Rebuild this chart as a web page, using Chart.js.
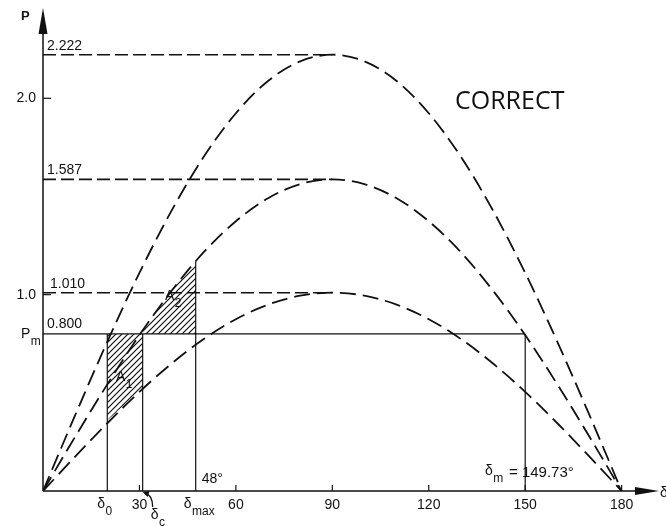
<!DOCTYPE html>
<html>
<head>
<meta charset="utf-8">
<script src="https://cdn.jsdelivr.net/npm/chart.js@4.4.1/dist/chart.umd.min.js"></script>
<style>
  html, body { margin: 0; padding: 0; background: #fff; }
  #wrap { width: 666px; height: 527px; position: relative; }
</style>
</head>
<body>
<div id="wrap"><canvas id="myChart"></canvas></div>
<script>
// valores (curvas P-delta)
const angles = [0, 10, 20, 30, 40, 50, 60, 70, 80, 90, 100, 110, 120, 130, 140, 150, 160, 170, 180];
const curvePre = [0, 0.386, 0.760, 1.111, 1.428, 1.702, 1.924, 2.088, 2.188, 2.222, 2.188, 2.088, 1.924, 1.702, 1.428, 1.111, 0.760, 0.386, 0];
const curvePost = [0, 0.276, 0.543, 0.794, 1.020, 1.216, 1.374, 1.491, 1.563, 1.587, 1.563, 1.491, 1.374, 1.216, 1.020, 0.794, 0.543, 0.276, 0];
const curveFault = [0, 0.175, 0.345, 0.505, 0.649, 0.774, 0.875, 0.949, 0.995, 1.010, 0.995, 0.949, 0.875, 0.774, 0.649, 0.505, 0.345, 0.175, 0];

const peakValues = [2.222, 1.587, 1.010];
const peakLabels = ["2.222", "1.587", "1.010"];
const pm = 0.8;
const pmLabel = "0.800";
const delta0 = 20;
const deltaC = 31;
const deltaMax = 47.5;
const deltaM = 149.73;
const peakAngle = 90;

const xTickValues = [30, 60, 90, 120, 150, 180];
const xTickLabels = ["30", "60", "90", "120", "150", "180"];
const yTickValues = [1.0, 2.0];
const yTickLabels = ["1.0", "2.0"];

// area A1 (entre Pm e a curva de defeito) e A2 (entre Pm e a curva pos-defeito)
const a1Angles = [20, 23, 26, 29, 31];
const a1Lower = [0.36, 0.405, 0.450, 0.495, 0.522];
const a2Angles = [31, 35, 39, 43, 47.5];
const a2Upper = [0.817, 0.910, 0.999, 1.082, 1.170];

const pts = (xs, ys) => xs.map((x, i) => ({ x: x, y: ys[i] }));
const flat = (xs, v) => xs.map((x) => ({ x: x, y: v }));

// padrao tracejado para as areas
function hatch() {
  const c = document.createElement("canvas");
  c.width = 6; c.height = 6;
  const g = c.getContext("2d");
  g.strokeStyle = "#111";
  g.lineWidth = 1.2;
  g.beginPath();
  g.moveTo(-1, 7); g.lineTo(7, -1);
  g.moveTo(-1, 1); g.lineTo(1, -1);
  g.moveTo(5, 7); g.lineTo(7, 5);
  g.stroke();
  return g.createPattern(c, "repeat");
}
const pattern = hatch();

const dashCurve = { borderColor: "#111", borderWidth: 1.8, borderDash: [16, 7], pointRadius: 0, fill: false, cubicInterpolationMode: "monotone" };
const solid = { borderColor: "#111", borderWidth: 1.2, pointRadius: 0, fill: false, tension: 0 };
const dashFlat = { borderColor: "#111", borderWidth: 1.6, borderDash: [13, 5], pointRadius: 0, fill: false, tension: 0 };

const datasets = [
  // 0-1: A1
  { data: pts(a1Angles, a1Lower), borderWidth: 0, pointRadius: 0, backgroundColor: pattern, fill: 1, tension: 0.3 },
  { data: flat(a1Angles, pm), borderWidth: 0, pointRadius: 0, fill: false },
  // 2-3: A2
  { data: pts(a2Angles, a2Upper), borderWidth: 0, pointRadius: 0, backgroundColor: pattern, fill: 3, tension: 0.3 },
  { data: flat(a2Angles, pm), borderWidth: 0, pointRadius: 0, fill: false },
  // curvas
  Object.assign({ data: pts(angles, curvePre) }, dashCurve),
  Object.assign({ data: pts(angles, curvePost) }, dashCurve),
  Object.assign({ data: pts(angles, curveFault) }, dashCurve),
];

peakValues.forEach((v) => {
  datasets.push(Object.assign({ data: flat([0, peakAngle], v) }, dashFlat));
});

// linha Pm e verticais
datasets.push(Object.assign({ data: flat([0, deltaM], pm) }, solid));
datasets.push(Object.assign({ data: [{ x: delta0, y: 0 }, { x: delta0, y: pm }] }, solid));
datasets.push(Object.assign({ data: [{ x: deltaC, y: 0 }, { x: deltaC, y: pm }] }, solid));
datasets.push(Object.assign({ data: [{ x: deltaMax, y: 0 }, { x: deltaMax, y: a2Upper[a2Upper.length - 1] }] }, solid));
datasets.push(Object.assign({ data: [{ x: 150, y: 0 }, { x: 150, y: pm }] }, solid));

function subText(g, main, sub, x, y, size) {
  g.font = size + "px 'Liberation Sans', Arial, sans-serif";
  g.textAlign = "left";
  g.fillText(main, x, y);
  const w = g.measureText(main).width;
  g.font = (size - 2) + "px 'Liberation Sans', Arial, sans-serif";
  g.fillText(sub, x + w + 0.5, y + 7);
}

const axesPlugin = {
  id: "axes",
  afterDatasetsDraw(chart) {
    const g = chart.ctx;
    const xs = chart.scales.x;
    const ys = chart.scales.y;
    const x0 = xs.getPixelForValue(0);
    const y0 = ys.getPixelForValue(0);
    g.save();
    g.strokeStyle = "#111";
    g.fillStyle = "#111";
    g.lineWidth = 1.5;

    // eixos
    g.beginPath();
    g.moveTo(x0, y0); g.lineTo(x0, 14);
    g.moveTo(x0, y0); g.lineTo(640, y0);
    g.stroke();
    g.beginPath();
    g.moveTo(x0, 8); g.lineTo(x0 - 4.5, 34); g.lineTo(x0 + 4.5, 34); g.closePath();
    g.fill();
    g.beginPath();
    g.moveTo(659, y0); g.lineTo(635, y0 - 4); g.lineTo(635, y0 + 4); g.closePath();
    g.fill();

    // marcas dos eixos
    g.lineWidth = 1.2;
    xTickValues.forEach((v) => {
      const px = xs.getPixelForValue(v);
      g.beginPath(); g.moveTo(px, y0); g.lineTo(px, y0 - 6); g.stroke();
    });
    yTickValues.forEach((v) => {
      const py = ys.getPixelForValue(v);
      g.beginPath(); g.moveTo(x0, py); g.lineTo(x0 + 8, py); g.stroke();
    });

    g.font = "14px 'Liberation Sans', Arial, sans-serif";
    g.textBaseline = "middle";
    g.textAlign = "center";
    xTickValues.forEach((v, i) => {
      g.fillText(xTickLabels[i], xs.getPixelForValue(v), y0 + 14);
    });
    g.textAlign = "right";
    yTickValues.forEach((v, i) => {
      g.fillText(yTickLabels[i], x0 - 7, ys.getPixelForValue(v));
    });

    // rotulos das linhas horizontais
    g.textAlign = "left";
    g.textBaseline = "alphabetic";
    peakValues.forEach((v, i) => {
      g.fillText(peakLabels[i], x0 + 4 + (i === 2 ? 3 : 0), ys.getPixelForValue(v) - 5);
    });
    g.fillText(pmLabel, x0 + 4, ys.getPixelForValue(pm) - 6);

    g.font = "bold 13px 'Liberation Sans', Arial, sans-serif";
    g.fillText("P", 21, 20);
    subText(g, "P", "m", 21, ys.getPixelForValue(pm) + 4, 14);

    // rotulos dos angulos
    subText(g, "\u03b4", "0", xs.getPixelForValue(delta0) - 10, y0 + 17, 14);
    subText(g, "\u03b4", "max", xs.getPixelForValue(deltaMax) - 12, y0 + 17, 14);
    subText(g, "\u03b4", "c", xs.getPixelForValue(deltaC) + 8, y0 + 28, 14);
    subText(g, "\u03b4", "m", 485, 475, 14);
    g.font = "15px 'Liberation Sans', Arial, sans-serif";
    g.fillText("= 149.73\u00b0", 509, 477);
    g.font = "14px 'Liberation Sans', Arial, sans-serif";
    g.fillText("48\u00b0", xs.getPixelForValue(deltaMax) + 6, 483);
    g.fillText("\u03b4", 660, y0 + 6);

    // seta de delta c
    const cx = xs.getPixelForValue(deltaC);
    g.lineWidth = 1.3;
    g.beginPath();
    g.moveTo(cx + 10, y0 + 16);
    g.quadraticCurveTo(cx + 10, y0 + 4, cx + 3, y0 + 3);
    g.stroke();
    g.beginPath();
    g.moveTo(cx, y0 + 1); g.lineTo(cx + 7, y0); g.lineTo(cx + 5, y0 + 6); g.closePath();
    g.fill();

    // areas
    subText(g, "A", "1", 116, 381, 14);
    subText(g, "A", "2", 165, 300, 14);

    g.font = "25px 'Open Sans', sans-serif";
    g.fillText("CORRECT", 455, 109);
    g.restore();
  }
};

new Chart(document.getElementById("myChart"), {
  type: "scatter",
  data: { datasets: datasets.map((d) => Object.assign({ showLine: true }, d)) },
  options: {
    responsive: true,
    maintainAspectRatio: false,
    animation: false,
    layout: { padding: { left: 43, right: 9, top: 6, bottom: 36 } },
    plugins: { legend: { display: false }, tooltip: { enabled: false } },
    scales: {
      x: { type: "linear", min: 0, max: 191, display: false },
      y: { type: "linear", min: 0, max: 2.47, display: false }
    }
  },
  plugins: [axesPlugin]
});
</script>
</body>
</html>
